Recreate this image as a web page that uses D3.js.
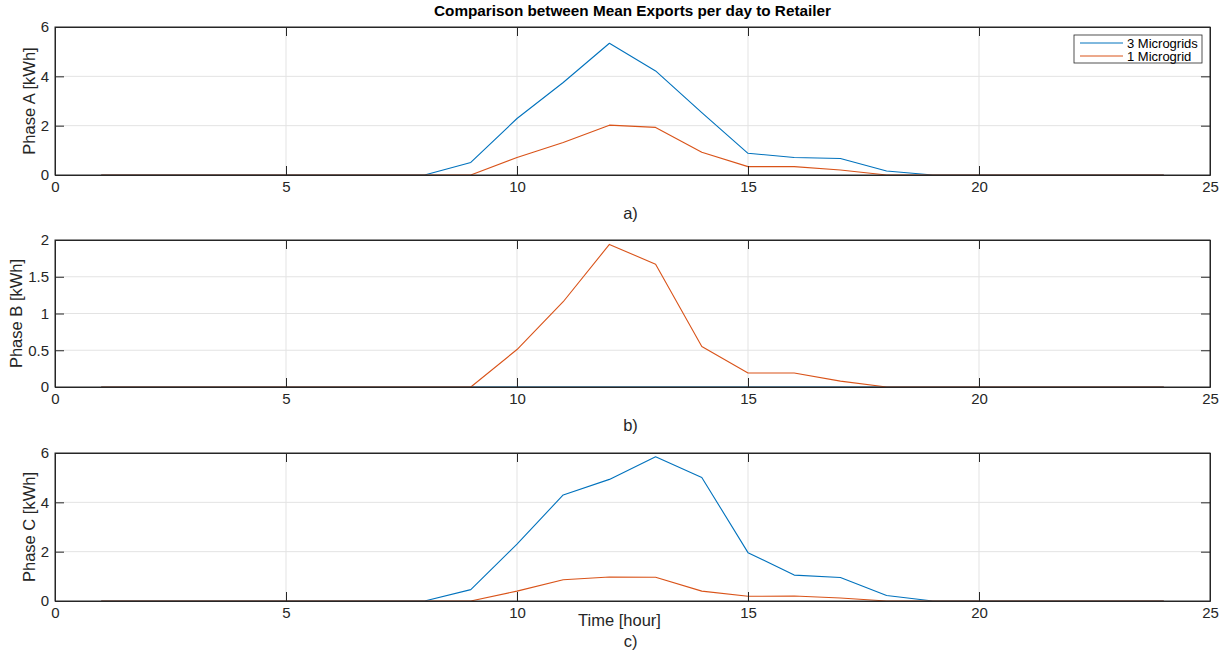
<!DOCTYPE html>
<html>
<head>
<meta charset="utf-8">
<script src="https://cdn.jsdelivr.net/npm/d3@7"></script>
<style>
  html, body { margin: 0; padding: 0; background: #fff; }
  svg { display: block; font-family: "Liberation Sans", Arial, Helvetica, sans-serif; }
</style>
</head>
<body>
<svg id="chart" width="1229" height="663"></svg>
<script>
// Hours of the day
const hours = d3.range(1, 25);

// Mean exports to the retailer [kWh], per phase
const phaseA3 = [0,0,0,0,0,0,0,0,0.51,2.29,3.75,5.34,4.22,2.53,0.88,0.71,0.67,0.16,0,0,0,0,0,0];
const phaseA1 = [0,0,0,0,0,0,0,0,0,0.71,1.32,2.02,1.93,0.92,0.34,0.34,0.2,0,0,0,0,0,0,0];
const phaseB3 = [0,0,0,0,0,0,0,0,0,0,0,0,0,0,0,0,0,0,0,0,0,0,0,0];
const phaseB1 = [0,0,0,0,0,0,0,0,0,0.51,1.16,1.94,1.67,0.55,0.19,0.19,0.08,0,0,0,0,0,0,0];
const phaseC3 = [0,0,0,0,0,0,0,0,0.46,2.31,4.3,4.93,5.85,5.01,1.96,1.05,0.95,0.22,0,0,0,0,0,0];
const phaseC1 = [0,0,0,0,0,0,0,0,0,0.4,0.86,0.97,0.96,0.4,0.19,0.2,0.12,0,0,0,0,0,0,0];

// Axis ticks
const xTicks = [0, 5, 10, 15, 20, 25];
const yTicksAC = [0, 2, 4, 6];
const yTicksB = [0, 0.5, 1, 1.5, 2];

const seriesNames = ["3 Microgrids", "1 Microgrid"];
const seriesColors = ["#0072BD", "#D95319"];

const panels = [
  { label: "Phase A [kWh]", caption: "a)", top: 27, bottom: 175, yMax: 6, yTicks: yTicksAC, data: [phaseA3, phaseA1], legend: true },
  { label: "Phase B [kWh]", caption: "b)", top: 240, bottom: 387, yMax: 2, yTicks: yTicksB, data: [phaseB3, phaseB1] },
  { label: "Phase C [kWh]", caption: "c)", top: 453, bottom: 601, yMax: 6, yTicks: yTicksAC, data: [phaseC3, phaseC1], xLabel: "Time [hour]" }
];

const svg = d3.select("#chart");
const left = 55, right = 1210;
const axisColor = "#262626";
const gridColor = "#e3e3e3";
const tickLen = 9;
const tickFont = 15;
const labelFont = 16.5;

const x = d3.scaleLinear().domain([0, 25]).range([left, right]);

svg.append("text")
  .attr("x", (left + right) / 2).attr("y", 16)
  .attr("text-anchor", "middle")
  .attr("font-size", 15.3).attr("font-weight", "bold")
  .attr("fill", "#000")
  .text("Comparison between Mean Exports per day to Retailer");

panels.forEach(p => {
  const y = d3.scaleLinear().domain([0, p.yMax]).range([p.bottom, p.top]);
  const g = svg.append("g");

  // grid
  g.append("g").selectAll("line").data(xTicks.slice(1, -1)).join("line")
    .attr("x1", d => x(d)).attr("x2", d => x(d))
    .attr("y1", p.top).attr("y2", p.bottom)
    .attr("stroke", gridColor).attr("stroke-width", 1);
  g.append("g").selectAll("line").data(p.yTicks.slice(1, -1)).join("line")
    .attr("x1", left).attr("x2", right)
    .attr("y1", d => y(d)).attr("y2", d => y(d))
    .attr("stroke", gridColor).attr("stroke-width", 1);

  // series
  const line = d3.line().x((d, i) => x(hours[i])).y(d => y(d));
  p.data.forEach((vals, k) => {
    g.append("path").datum(vals)
      .attr("d", line)
      .attr("fill", "none")
      .attr("stroke", seriesColors[k])
      .attr("stroke-width", 1.1)
      .attr("stroke-linejoin", "round");
  });

  // axes with inward ticks
  const styleAxis = sel => {
    sel.selectAll("path").attr("stroke", axisColor);
    sel.selectAll("line").attr("stroke", axisColor);
    sel.selectAll("text").attr("fill", axisColor).attr("font-size", tickFont);
  };
  g.append("g").attr("transform", `translate(0,${p.bottom})`)
    .call(d3.axisBottom(x).tickValues(xTicks).tickFormat(d3.format("d")).tickSizeInner(-tickLen).tickSizeOuter(0))
    .call(styleAxis)
    .call(s => s.selectAll("text").attr("dy", "0.71em").attr("y", 6));
  g.append("g").attr("transform", `translate(0,${p.top})`)
    .call(d3.axisTop(x).tickValues(xTicks).tickFormat("").tickSizeInner(-tickLen).tickSizeOuter(0))
    .call(styleAxis);
  const yAxis = g.append("g").attr("transform", `translate(${left},0)`)
    .call(d3.axisLeft(y).tickValues(p.yTicks).tickFormat(d3.format("")).tickSizeInner(-tickLen).tickSizeOuter(0))
    .call(styleAxis)
    .call(s => s.selectAll("text").attr("x", -6));
  g.append("g").attr("transform", `translate(${right},0)`)
    .call(d3.axisRight(y).tickValues(p.yTicks).tickFormat("").tickSizeInner(-tickLen).tickSizeOuter(0))
    .call(styleAxis);
  g.append("rect")
    .attr("x", left).attr("y", p.top)
    .attr("width", right - left).attr("height", p.bottom - p.top)
    .attr("fill", "none").attr("stroke", axisColor).attr("stroke-width", 1);

  // y label, placed just outside the widest tick label
  let maxW = 0;
  yAxis.selectAll("text").each(function () { maxW = Math.max(maxW, this.getBBox().width); });
  g.append("text")
    .attr("transform", `translate(${left - 6 - maxW - 6},${(p.top + p.bottom) / 2}) rotate(-90)`)
    .attr("text-anchor", "middle")
    .attr("font-size", labelFont).attr("fill", axisColor)
    .text(p.label);

  // x label and caption
  let capY = p.bottom + 44;
  if (p.xLabel) {
    g.append("text")
      .attr("x", (left + right) / 2 - 13).attr("y", p.bottom + 25)
      .attr("text-anchor", "middle")
      .attr("font-size", labelFont).attr("fill", axisColor)
      .text(p.xLabel);
    capY = p.bottom + 46;
  }
  g.append("text")
    .attr("x", (left + right) / 2 - 2).attr("y", capY)
    .attr("text-anchor", "middle")
    .attr("font-size", labelFont).attr("fill", axisColor)
    .text(p.caption);

  // legend
  if (p.legend) {
    const lx = 1074, ly = 35, lw = 128, lh = 28;
    const lg = g.append("g");
    lg.append("rect").attr("x", lx).attr("y", ly).attr("width", lw).attr("height", lh)
      .attr("fill", "#fff").attr("stroke", axisColor).attr("stroke-width", 0.8);
    seriesNames.forEach((name, k) => {
      const yy = ly + 8 + k * 13;
      lg.append("line").attr("x1", lx + 6).attr("x2", lx + 49).attr("y1", yy).attr("y2", yy)
        .attr("stroke", seriesColors[k]).attr("stroke-width", 1);
      lg.append("text").attr("x", lx + 53).attr("y", yy).attr("dy", "0.35em")
        .attr("font-size", 13).attr("fill", "#000").text(name);
    });
  }
});
</script>
</body>
</html>
